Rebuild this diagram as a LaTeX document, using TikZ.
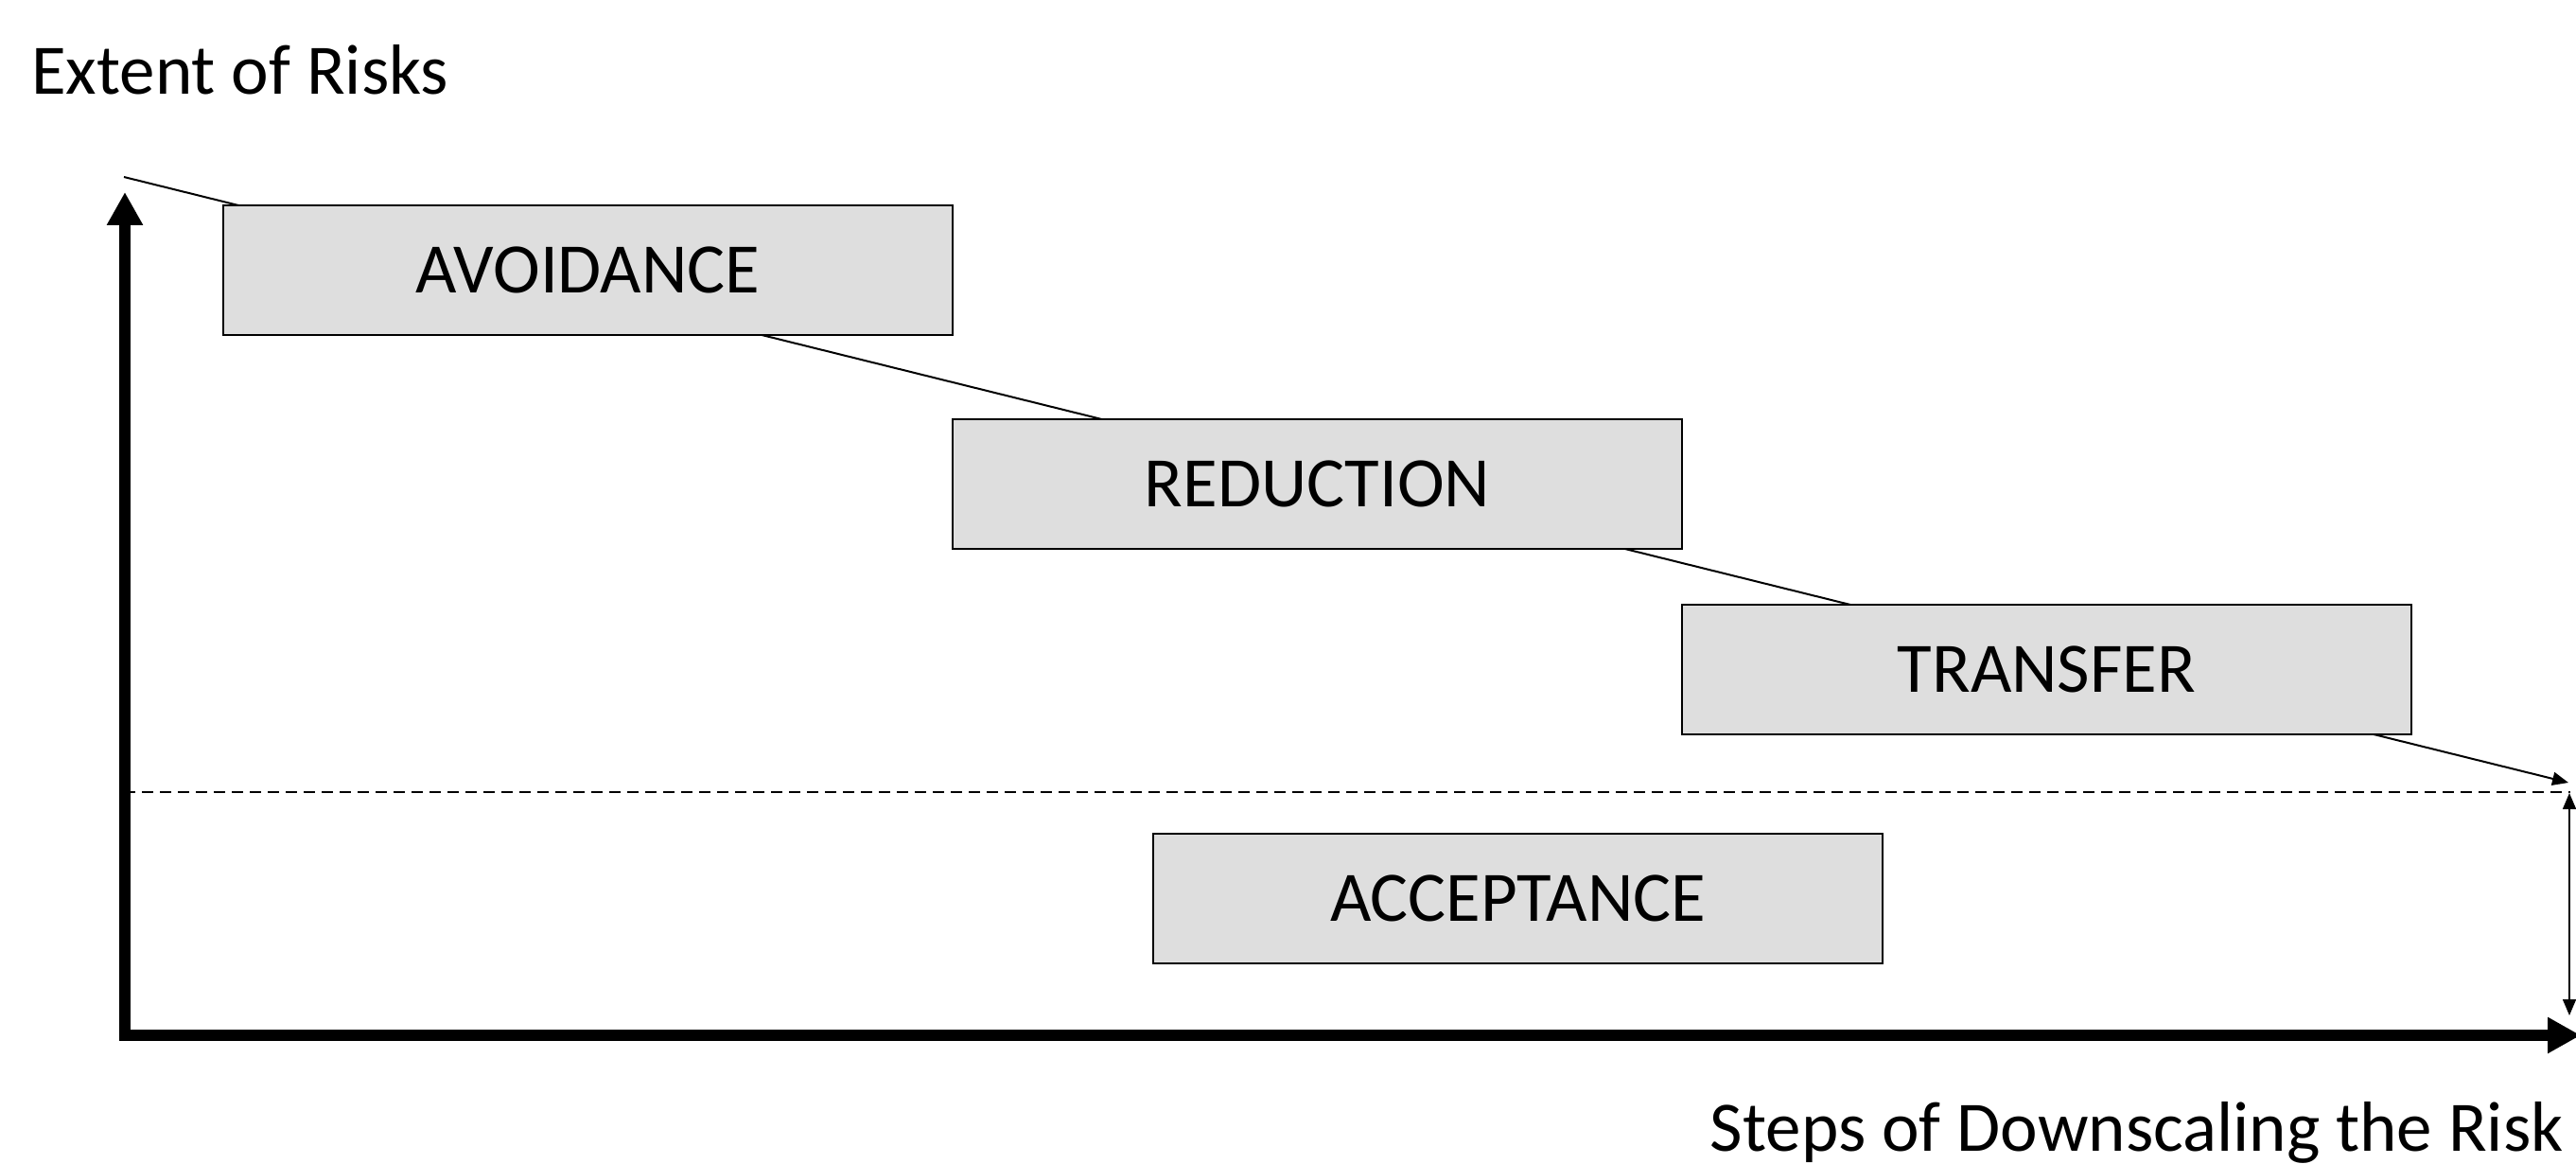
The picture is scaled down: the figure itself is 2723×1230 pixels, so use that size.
\documentclass[tikz,border=0pt]{standalone}
\usepackage{fontspec}
\setmainfont{Carlito}
\usetikzlibrary{arrows.meta}
\begin{document}
\begin{tikzpicture}[x=1pt,y=-1pt,
  bigfont/.style={font=\fontsize{75}{90}\selectfont},
  riskbox/.style={draw=black,line width=2pt,fill=black!13,minimum width=771pt,minimum height=137pt,inner sep=0pt,bigfont},
  axis/.style={line width=12pt,line join=miter},
  thin arrow/.style={line width=2pt,-{Triangle[width=14pt,length=17pt]}}
]
\useasboundingbox (0,0) rectangle (2723,1230);
\coordinate (o) at (132,1094);
\coordinate (ytop) at (132,203);
\coordinate (xend) at (2728,1094);
\coordinate (s0) at (131,187);
\coordinate (s1) at (2715,827);
\coordinate (d0) at (131,837);
\coordinate (d1) at (2717,837);
\coordinate (v0) at (2716,838);
\coordinate (v1) at (2716,1073);
% sloped line behind boxes
\draw[thin arrow] (s0) -- (s1);
% boxes
\node[riskbox] (avoid) at (621.5,285.5) {AVOIDANCE};
\node[riskbox] (reduce) at (1392.5,511.5) {REDUCTION};
\node[riskbox] (transfer) at (2163.5,707.5) {TRANSFER};
\node[riskbox] (accept) at (1604.5,949) {ACCEPTANCE};
% dashed threshold
\draw[line width=1.6pt,dash pattern=on 12pt off 7pt] (d0) -- (d1);
% vertical double arrow
\draw[line width=1.6pt,{Triangle[width=14pt,length=17pt]}-{Triangle[width=14pt,length=17pt]}] (v0) -- (v1);
% axes
\draw[axis,{Triangle[width=36pt,length=35pt]}-{Triangle[width=36pt,length=35pt]}] (ytop) -- (o) -- (xend);
% labels
\node[bigfont,anchor=base west,inner sep=0pt] (ylab) at (33,100) {Extent of Risks};
\node[bigfont,anchor=base east,inner sep=0pt] (xlab) at (2710,1216) {Steps of Downscaling the Risk};
\end{tikzpicture}
\end{document}
